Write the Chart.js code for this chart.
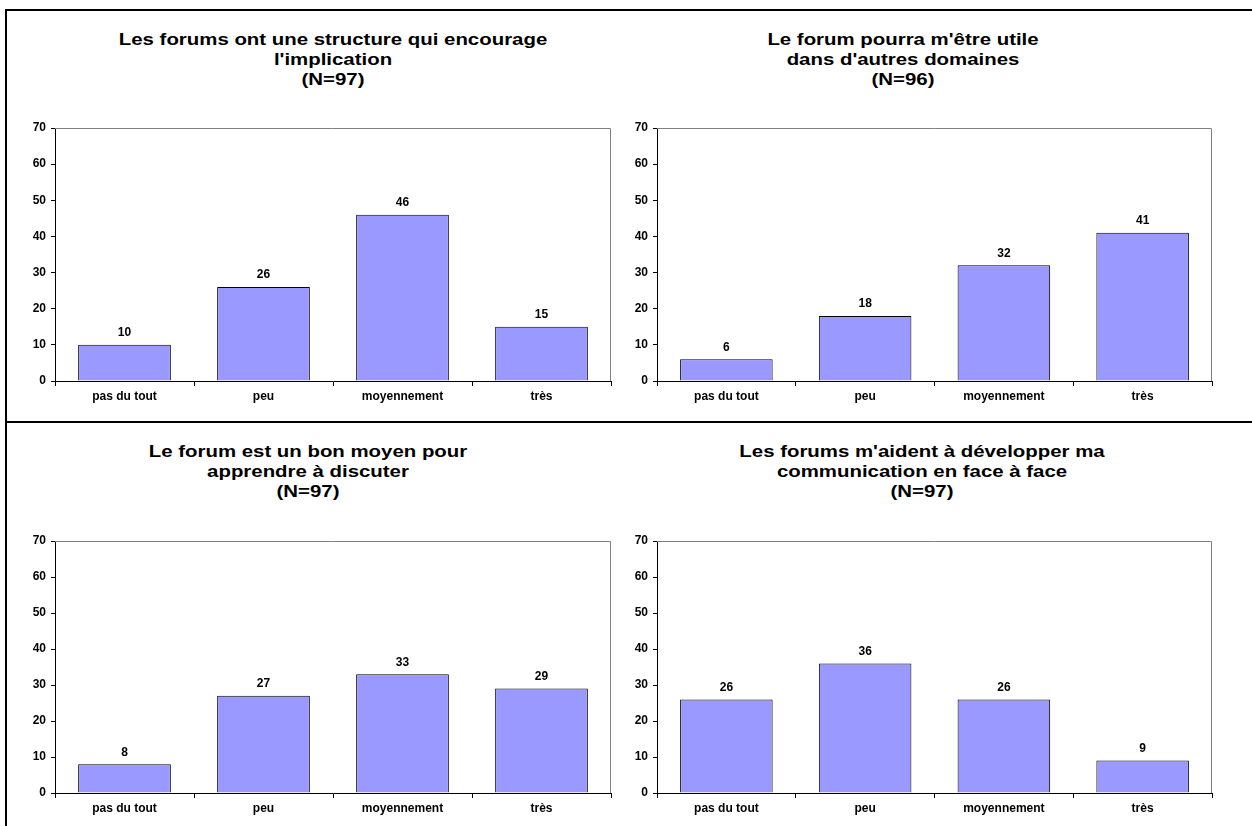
<!DOCTYPE html>
<html lang="fr">
<head>
<meta charset="utf-8">
<title>Forums</title>
<script src="https://cdn.jsdelivr.net/npm/chart.js@4/dist/chart.umd.min.js"></script>
<style>
  html, body { margin: 0; padding: 0; background: #fff; }
  body { width: 1252px; height: 826px; position: relative; overflow: hidden; font-family: "Liberation Sans", Arial, sans-serif; }
  .rule { position: absolute; background: #000; }
  .title { position: absolute; width: 600px; text-align: center; font-weight: bold; font-size: 17px; line-height: 20px; color: #000; transform: scaleX(1.2); }
  canvas { position: absolute; }
</style>
</head>
<body>
<div class="rule" style="left:5px;top:9px;width:1247px;height:2px"></div>
<div class="rule" style="left:5px;top:9px;width:2px;height:817px"></div>
<div class="rule" style="left:5px;top:421px;width:1247px;height:2px"></div>

<div class="title" id="t0" style="left:33px;top:30px"></div>
<div class="title" id="t1" style="left:603px;top:30px"></div>
<div class="title" id="t2" style="left:8px;top:442px"></div>
<div class="title" id="t3" style="left:622px;top:442px"></div>

<canvas id="c0" width="630" height="310" style="left:0;top:110px"></canvas>
<canvas id="c1" width="650" height="310" style="left:602px;top:110px"></canvas>
<canvas id="c2" width="630" height="303" style="left:0;top:523px"></canvas>
<canvas id="c3" width="650" height="303" style="left:602px;top:523px"></canvas>

<script>
const categories = ['pas du tout', 'peu', 'moyennement', 'très'];

const titleStructure = ["Les forums ont une structure qui encourage", "l'implication", "(N=97)"];
const titleUtile = ["Le forum pourra m'être utile", "dans d'autres domaines", "(N=96)"];
const titleDiscuter = ["Le forum est un bon moyen pour", "apprendre à discuter", "(N=97)"];
const titleFaceAFace = ["Les forums m'aident à développer ma", "communication en face à face", "(N=97)"];

const structureValues = [10, 26, 46, 15];
const utileValues = [6, 18, 32, 41];
const discuterValues = [8, 27, 33, 29];
const faceAFaceValues = [26, 36, 26, 9];

const yMax = 70;
const yStep = 10;

const smallFont = { family: '"Liberation Sans", Arial, sans-serif', size: 12, weight: 'bold' };

// gray frame on top and right of the plot area
const plotFrame = {
  id: 'plotFrame',
  beforeDatasetsDraw(chart) {
    const { ctx, chartArea: a } = chart;
    ctx.save();
    ctx.strokeStyle = '#808080';
    ctx.lineWidth = 1;
    ctx.beginPath();
    ctx.moveTo(a.left, a.top + 0.5);
    ctx.lineTo(a.right - 0.5, a.top + 0.5);
    ctx.lineTo(a.right - 0.5, a.bottom);
    ctx.stroke();
    ctx.restore();
  }
};

// value printed above each bar
const barValues = {
  id: 'barValues',
  afterDatasetsDraw(chart) {
    const { ctx } = chart;
    const ds = chart.data.datasets[0];
    ctx.save();
    ctx.font = 'bold 12px "Liberation Sans", Arial, sans-serif';
    ctx.fillStyle = '#000';
    ctx.textAlign = 'center';
    ctx.textBaseline = 'bottom';
    chart.getDatasetMeta(0).data.forEach((bar, i) => {
      ctx.fillText(String(ds.data[i]), bar.x, bar.y - 6);
    });
    ctx.restore();
  }
};

function makeChart(id, values, padRight, xHeight) {
  return new Chart(document.getElementById(id), {
    type: 'bar',
    data: {
      labels: categories,
      datasets: [{
        data: values,
        backgroundColor: '#9999FF',
        borderColor: '#000',
        borderWidth: 1,
        borderSkipped: 'bottom',
        barPercentage: 0.667,
        categoryPercentage: 1
      }]
    },
    options: {
      responsive: false,
      animation: false,
      devicePixelRatio: 1,
      layout: { padding: { top: 18, right: padRight, bottom: 0, left: 0 } },
      plugins: { legend: { display: false }, tooltip: { enabled: false } },
      scales: {
        x: {
          grid: { offset: true, drawOnChartArea: false, drawTicks: true, tickLength: 5, tickColor: '#000' },
          border: { color: '#000', width: 1 },
          ticks: { color: '#000', padding: 3, font: smallFont },
          afterFit(scale) { scale.height = xHeight; }
        },
        y: {
          min: 0,
          max: yMax,
          grid: { drawOnChartArea: false, drawTicks: true, tickLength: 4, tickColor: '#000' },
          border: { color: '#000', width: 1 },
          ticks: { stepSize: yStep, color: '#000', padding: 5, font: smallFont },
          afterFit(scale) { scale.width = 55; }
        }
      }
    },
    plugins: [plotFrame, barValues]
  });
}

[titleStructure, titleUtile, titleDiscuter, titleFaceAFace].forEach((lines, i) => {
  document.getElementById('t' + i).innerHTML = lines.map(l => '<div>' + l + '</div>').join('');
});

makeChart('c0', structureValues, 19, 39);
makeChart('c1', utileValues, 40, 39);
makeChart('c2', discuterValues, 19, 33);
makeChart('c3', faceAFaceValues, 40, 33);
</script>
</body>
</html>
